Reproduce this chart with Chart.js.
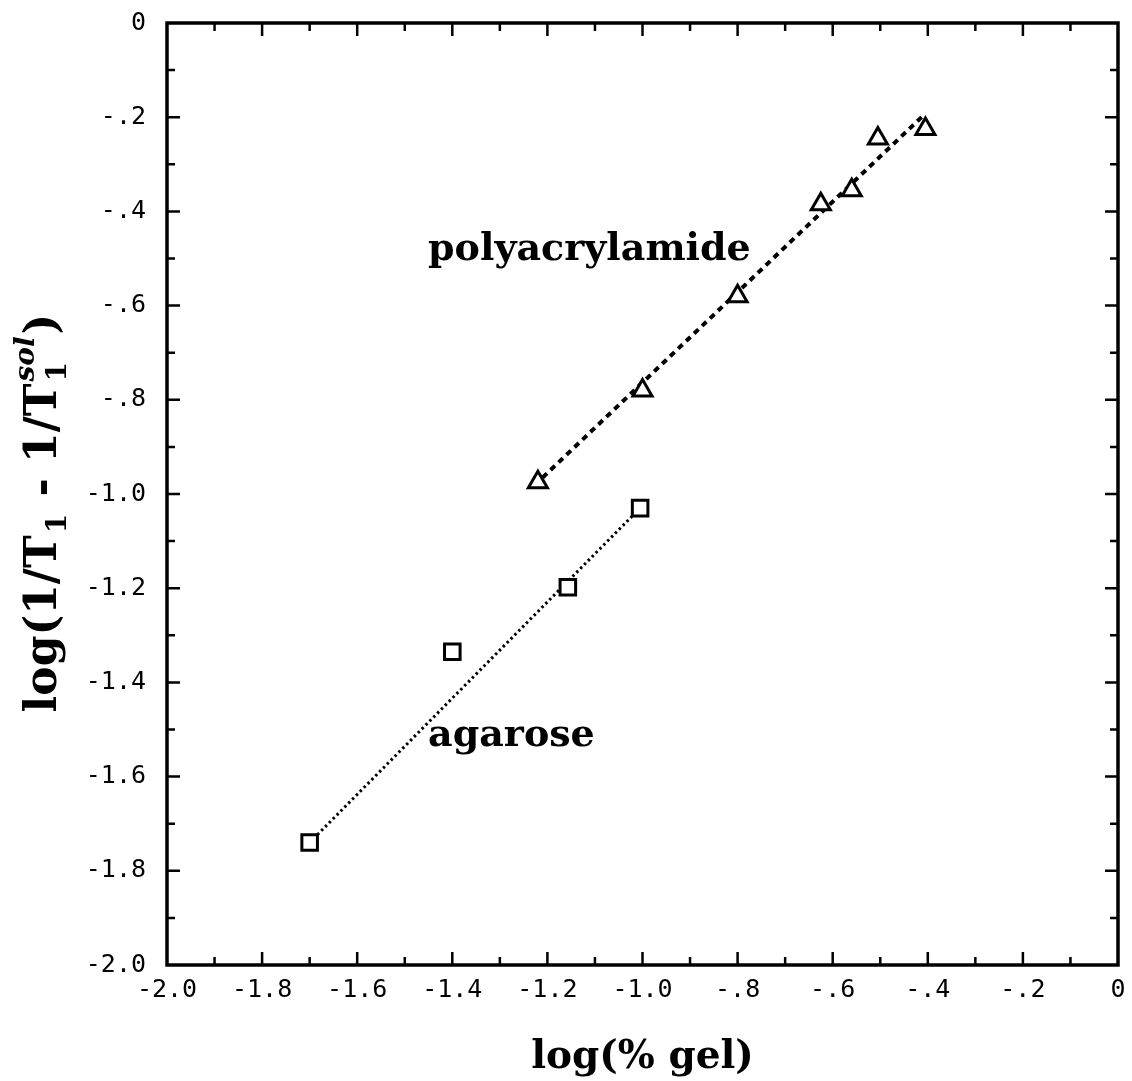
<!DOCTYPE html>
<html>
<head>
<meta charset="utf-8">
<script src="https://cdn.jsdelivr.net/npm/chart.js@4.4.1/dist/chart.umd.min.js"></script>
<style>
  html, body { margin: 0; padding: 0; background: #fff; }
  canvas { display: block; }
</style>
</head>
<body>
<canvas id="gel-chart" width="1132" height="1081"></canvas>
<script>
// polyacrylamide (triangles)
const polyX = [-1.22, -1.0, -0.8, -0.625, -0.56, -0.505, -0.405];
const polyY = [-0.975, -0.78, -0.58, -0.385, -0.355, -0.245, -0.225];
const polyFitX = [-1.21, -0.41];
const polyFitY = [-0.965, -0.197];

// agarose (squares)
const agaroseX = [-1.7, -1.4, -1.157, -1.005];
const agaroseY = [-1.74, -1.335, -1.198, -1.03];
const agaroseFitX = [-1.7, -1.005];
const agaroseFitY = [-1.74, -1.03];

const xTickLabels = ["-2.0", "-1.8", "-1.6", "-1.4", "-1.2", "-1.0", "-.8", "-.6", "-.4", "-.2", "0"];
const yTickLabels = ["0", "-.2", "-.4", "-.6", "-.8", "-1.0", "-1.2", "-1.4", "-1.6", "-1.8", "-2.0"];

const xTitle = "log(% gel)";
const seriesNames = ["polyacrylamide", "agarose"];

const pts = (xs, ys) => xs.map((x, i) => ({x, y: ys[i]}));

const tickFont = {family: "DejaVu Sans Mono", size: 25};

// frame, inside ticks, text labels, y title
const framePlugin = {
    id: "frame",
    afterDraw(chart) {
        const ctx = chart.ctx;
        const {left, right, top, bottom} = chart.chartArea;
        const xs = chart.scales.x, ys = chart.scales.y;
        ctx.save();
        ctx.strokeStyle = "#000";
        ctx.lineWidth = 2.5;
        ctx.beginPath();
        xs.ticks.forEach(t => {
            const k = Math.round(t.value * 10);
            if (k === -20 || k === 0) return;
            const len = k % 2 === 0 ? 13 : 8;
            const px = xs.getPixelForValue(t.value);
            ctx.moveTo(px, bottom); ctx.lineTo(px, bottom - len);
            ctx.moveTo(px, top); ctx.lineTo(px, top + len);
        });
        ys.ticks.forEach(t => {
            const k = Math.round(t.value * 10);
            if (k === -20 || k === 0) return;
            const len = k % 2 === 0 ? 13 : 8;
            const py = ys.getPixelForValue(t.value);
            ctx.moveTo(left, py); ctx.lineTo(left + len, py);
            ctx.moveTo(right, py); ctx.lineTo(right - len, py);
        });
        ctx.stroke();
        ctx.lineWidth = 3.5;
        ctx.strokeRect(left, top, right - left, bottom - top);

        // series labels
        ctx.fillStyle = "#000";
        ctx.font = "bold 38px 'DejaVu Serif'";
        ctx.textAlign = "left";
        ctx.textBaseline = "alphabetic";
        ctx.fillText(seriesNames[0], xs.getPixelForValue(-1.451), ys.getPixelForValue(-0.503));
        ctx.fillText(seriesNames[1], xs.getPixelForValue(-1.451), ys.getPixelForValue(-1.536));

        // y axis title with sub/superscripts
        const main = "bold 44px 'DejaVu Serif'";
        const small = "bold 28px 'DejaVu Serif'";
        const smallIt = "italic bold 28px 'DejaVu Serif'";
        const parts = [
            {t: "log(1/T", f: main, dy: 0},
            {t: "1", f: small, dy: 10},
            {t: " - 1/T", f: main, dy: 0},
            {t: "1", f: small, dy: 10, sup: "sol"},
            {t: ")", f: main, dy: 0}
        ];
        const widths = parts.map(p => {
            ctx.font = p.f;
            let w = ctx.measureText(p.t).width;
            if (p.sup) { ctx.font = smallIt; w = Math.max(w, ctx.measureText(p.sup).width); }
            return w + (p.f === small ? 4 : 0);
        });
        const total = widths.reduce((a, b) => a + b, 0);
        ctx.translate(56, 513);
        ctx.rotate(-Math.PI / 2);
        let cx = -total / 2;
        parts.forEach((p, i) => {
            ctx.font = p.f;
            ctx.fillText(p.t, cx + (p.f === small ? 2 : 0), p.dy);
            if (p.sup) {
                ctx.font = smallIt;
                ctx.fillText(p.sup, cx + 2, -22);
            }
            cx += widths[i];
        });
        ctx.restore();
    }
};

new Chart(document.getElementById("gel-chart").getContext("2d"), {
    type: "scatter",
    data: {
        datasets: [
            {
                label: seriesNames[0],
                data: pts(polyX, polyY),
                pointStyle: "triangle",
                pointRadius: 11,
                pointBorderWidth: 3,
                borderColor: "#000",
                backgroundColor: "#fff",
                order: 0
            },
            {
                label: seriesNames[1],
                data: pts(agaroseX, agaroseY),
                pointStyle: "rect",
                pointRadius: 11,
                pointBorderWidth: 3,
                borderColor: "#000",
                backgroundColor: "#fff",
                order: 0
            },
            {
                label: "polyacrylamide fit",
                data: pts(polyFitX, polyFitY),
                showLine: true,
                pointRadius: 0,
                borderColor: "#000",
                borderWidth: 4,
                borderDash: [6, 5],
                order: 1
            },
            {
                label: "agarose fit",
                data: pts(agaroseFitX, agaroseFitY),
                showLine: true,
                pointRadius: 0,
                borderColor: "#000",
                borderWidth: 3,
                borderDash: [2.5, 3],
                order: 1
            }
        ]
    },
    options: {
        responsive: false,
        animation: false,
        layout: {padding: {left: 0, top: 23, right: -7, bottom: 0}},
        plugins: {
            legend: {display: false},
            tooltip: {enabled: false}
        },
        scales: {
            x: {
                type: "linear",
                min: -2, max: 0,
                afterFit: s => {
                    s.height = 116;
                    s.paddingLeft = 0; s.paddingRight = 0;
                },
                grid: {display: false, drawTicks: false},
                border: {display: false},
                ticks: {
                    stepSize: 0.1,
                    autoSkip: false,
                    maxRotation: 0,
                    padding: 10,
                    color: "#000",
                    font: tickFont,
                    callback: v => {
                        const k = Math.round(v * 10);
                        return k % 2 === 0 ? xTickLabels[(k + 20) / 2] : "";
                    }
                },
                title: {
                    display: true,
                    text: xTitle,
                    color: "#000",
                    font: {family: "DejaVu Serif", size: 39, weight: "bold"},
                    padding: {top: 0, bottom: 0}
                }
            },
            y: {
                type: "linear",
                min: -2, max: 0,
                afterFit: s => {
                    s.width = 167;
                    s.paddingTop = 0; s.paddingBottom = 0;
                },
                grid: {display: false, drawTicks: false},
                border: {display: false},
                ticks: {
                    stepSize: 0.1,
                    autoSkip: false,
                    padding: 21,
                    color: "#000",
                    font: tickFont,
                    callback: v => {
                        const k = Math.round(v * 10);
                        return k % 2 === 0 ? yTickLabels[-k / 2] : "";
                    }
                }
            }
        }
    },
    plugins: [framePlugin]
});
</script>
</body>
</html>
